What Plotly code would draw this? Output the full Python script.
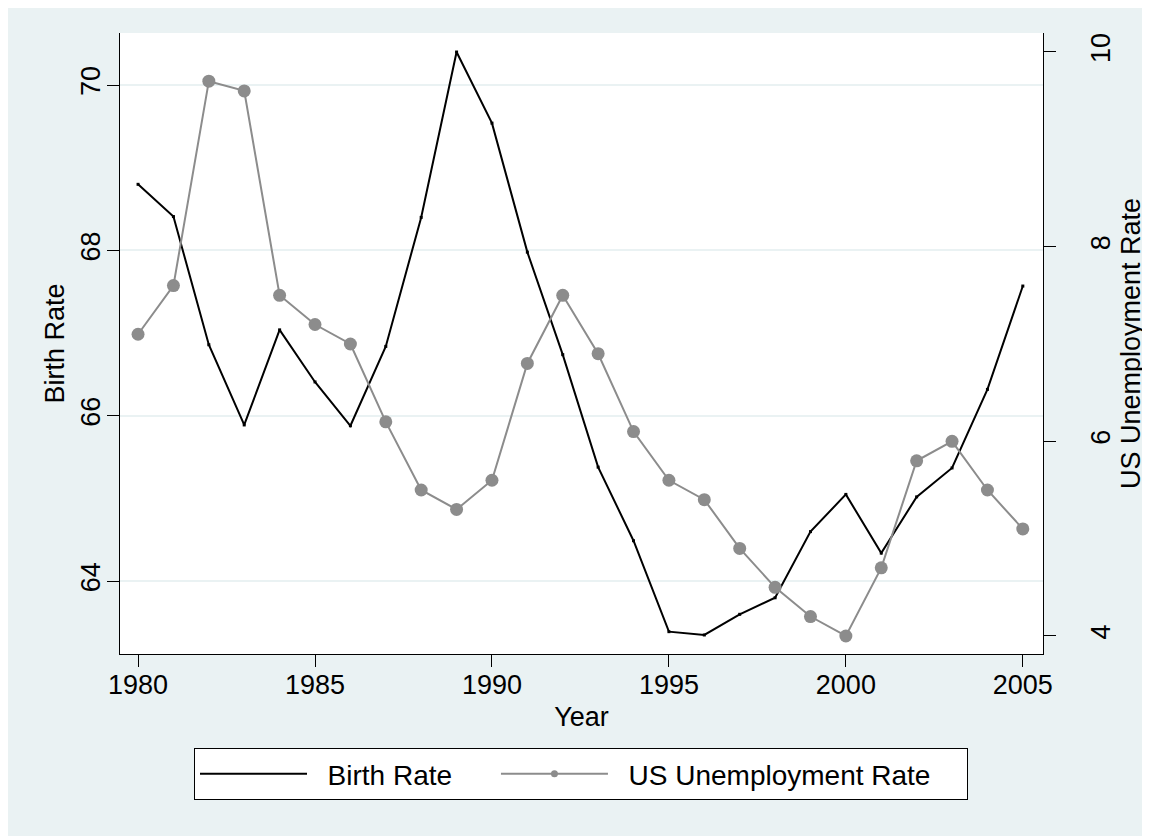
import plotly.graph_objects as go

years = list(range(1980, 2006))
birth_rate = [68.80, 68.41, 66.86, 65.89, 67.04, 66.41, 65.88, 66.84, 68.40, 70.40,
              69.54, 67.98, 66.74, 65.38, 64.49, 63.39, 63.35, 63.60, 63.80, 64.60,
              65.05, 64.34, 65.02, 65.37, 66.32, 67.57]
unemployment = [7.1, 7.6, 9.7, 9.6, 7.5, 7.2, 7.0, 6.2, 5.5, 5.3,
                5.6, 6.8, 7.5, 6.9, 6.1, 5.6, 5.4, 4.9, 4.5, 4.2,
                4.0, 4.7, 5.8, 6.0, 5.5, 5.1]
x_ticks = [1980, 1985, 1990, 1995, 2000, 2005]
y1_ticks = [64, 66, 68, 70]
y2_ticks = [4, 6, 8, 10]
series_names = ["Birth Rate", "US Unemployment Rate"]

BG = "#eaf2f3"
GRAY = "#8c8c8c"
FONT = "Liberation Sans, Arial, Helvetica, sans-serif"
FS = 27
NB = "\u00a0"

fig = go.Figure()
fig.add_trace(go.Scatter(
    x=years, y=birth_rate, name=series_names[0], mode="lines+markers",
    line=dict(color="#000000", width=2),
    marker=dict(color="#000000", size=3, symbol="square"),
    yaxis="y", showlegend=False,
))
fig.add_trace(go.Scatter(
    x=years, y=unemployment, name=series_names[1], mode="lines+markers",
    line=dict(color=GRAY, width=2),
    marker=dict(color=GRAY, size=13, symbol="circle"),
    yaxis="y2", showlegend=False,
))
# legend-only entries (no data) so the legend glyphs match the reference style
fig.add_trace(go.Scatter(
    x=[None], y=[None], name=NB * 2 + series_names[0] + NB * 5, mode="lines",
    line=dict(color="#000000", width=2), yaxis="y", hoverinfo="skip",
))
fig.add_trace(go.Scatter(
    x=[None], y=[None], name=NB * 2 + series_names[1] + NB * 4, mode="lines+markers",
    line=dict(color=GRAY, width=2), marker=dict(color=GRAY, size=7),
    yaxis="y2", hoverinfo="skip",
))

# page is offset by the 8px body margin
W, H = 1139, 828
L, T = 112, 25
R, B = 1035, 646
pw, ph = R - L, B - T

fig.update_layout(
    width=W, height=H,
    margin=dict(l=L, r=W - R, t=T, b=H - B, pad=0),
    paper_bgcolor=BG, plot_bgcolor="#ffffff",
    font=dict(family=FONT, size=FS, color="#000000"),
    showlegend=True,
    legend=dict(
        orientation="h", x=(573 - L) / pw, xanchor="center",
        y=(B - 740) / ph, yanchor="top",
        bordercolor="#000000", borderwidth=1, bgcolor="#ffffff",
        font=dict(family=FONT, size=28),
        itemwidth=107, tracegroupgap=0,
    ),
    xaxis=dict(
        range=[1979.49, 2005.57], tickvals=x_ticks,
        showline=True, linecolor="#000000", linewidth=1,
        ticks="outside", ticklen=12, tickcolor="#000000", tickwidth=1,
        showgrid=False, zeroline=False, ticklabelstandoff=-5,
        title=dict(text="Year", font=dict(size=FS), standoff=7),
        tickfont=dict(size=FS),
    ),
    yaxis=dict(
        range=[63.12, 70.63], tickvals=y1_ticks,
        showline=True, linecolor="#000000", linewidth=1,
        ticks="outside", ticklen=12, tickcolor="#000000", tickwidth=1,
        showgrid=True, gridcolor=BG, gridwidth=2, zeroline=False,
        tickangle=-90, tickfont=dict(size=FS), ticklabelstandoff=-4,
        title=dict(text="Birth Rate", font=dict(size=FS), standoff=3),
    ),
    yaxis2=dict(
        range=[3.815, 10.195], tickvals=y2_ticks, overlaying="y", side="right",
        showline=True, linecolor="#000000", linewidth=1,
        ticks="outside", ticklen=12, tickcolor="#000000", tickwidth=1,
        showgrid=False, zeroline=False,
        tickangle=-90, tickfont=dict(size=FS), ticklabelstandoff=22,
        title=dict(text="US Unemployment Rate", font=dict(size=FS), standoff=0),
    ),
)

fig.write_html("out.html")
